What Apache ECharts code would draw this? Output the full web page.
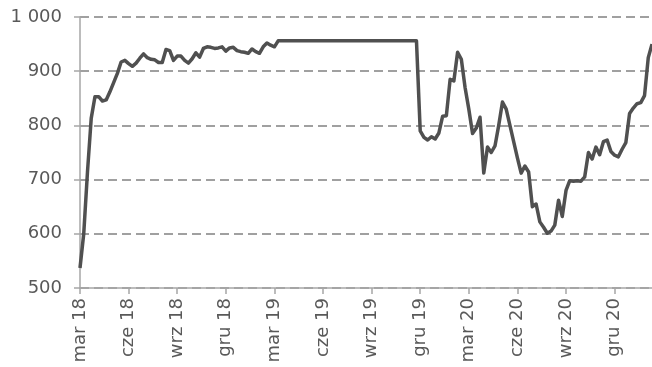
<!DOCTYPE html>
<html>
<head>
<meta charset="utf-8">
<style>
  html, body { margin: 0; padding: 0; background: #fff; }
  #chart { width: 652px; height: 367px; }
</style>
<script src="https://cdn.jsdelivr.net/npm/echarts@6/dist/echarts.min.js"></script>
</head>
<body>
<div id="chart"></div>
<script>
// tick labels, one per quarter (every 13 weeks)
var quarterLabels = ["mar 18", "cze 18", "wrz 18", "gru 18", "mar 19", "cze 19",
  "wrz 19", "gru 19", "mar 20", "cze 20", "wrz 20", "gru 20"];
var weeksPerQuarter = 13;

// weekly values
var values = [
  537, 600, 714, 813, 853, 853, 845, 847, 862, 879,
  896, 917, 920, 914, 909, 915, 924, 932, 925, 922,
  921, 916, 916, 940, 938, 920, 928, 928, 920, 915,
  923, 934, 926, 942, 945, 944, 942, 943, 945, 937,
  943, 944, 938, 936, 935, 933, 941, 936, 933, 945,
  952, 948, 945, 956, 956, 956, 956, 956, 956, 956,
  956, 956, 956, 956, 956, 956, 956, 956, 956, 956,
  956, 956, 956, 956, 956, 956, 956, 956, 956, 956,
  956, 956, 956, 956, 956, 956, 956, 956, 956, 956,
  956, 790, 778, 773, 779, 775, 786, 817, 818, 885,
  882, 935, 922, 870, 830, 785, 795, 815, 712, 760,
  750, 762, 800, 843, 830, 800, 770, 740, 712, 725,
  714, 650, 655, 622, 612, 601, 605, 616, 662, 632,
  680, 698, 697, 698, 697, 705, 750, 738, 760, 746,
  770, 773, 752, 745, 742, 756, 768, 822, 832, 840,
  842, 855, 925, 950
];
var categories = values.map(function (v, i) { return i; });

var yMin = 500, yMax = 1000, yStep = 100;

var labelColor = "#595959";
var fontFamily = "DejaVu Sans, Verdana, sans-serif";

var myChart = echarts.init(document.getElementById("chart"));
myChart.setOption({
  animation: false,
  grid: {
    left: 80,
    right: 0,
    top: 17,
    bottom: 79,
    containLabel: false
  },
  xAxis: {
    type: "category",
    boundaryGap: false,
    data: categories,
    axisLine: { lineStyle: { color: "#a6a6a6", width: 1.5 } },
    axisTick: {
      interval: weeksPerQuarter - 1,
      length: 6,
      lineStyle: { color: "#a6a6a6", width: 1.5 }
    },
    axisLabel: {
      interval: weeksPerQuarter - 1,
      rotate: 90,
      margin: 10,
      color: labelColor,
      fontSize: 18,
      fontFamily: fontFamily,
      formatter: function (v, i) {
        var q = i / weeksPerQuarter;
        return quarterLabels[q] || "";
      }
    },
    splitLine: { show: false }
  },
  yAxis: {
    type: "value",
    min: yMin,
    max: yMax,
    interval: yStep,
    axisLine: { show: true, lineStyle: { color: "#a6a6a6", width: 1.5 } },
    axisTick: { show: true, length: 6, lineStyle: { color: "#a6a6a6", width: 1.5 } },
    axisLabel: {
      margin: 18,
      color: labelColor,
      fontSize: 18,
      fontFamily: fontFamily,
      formatter: function (v) {
        return String(v).replace(/\B(?=(\d{3})+(?!\d))/g, " ");
      }
    },
    splitLine: {
      show: true,
      lineStyle: { color: "#a0a0a0", width: 2, type: [9, 5] }
    }
  },
  series: [
    {
      type: "line",
      data: values,
      showSymbol: false,
      smooth: false,
      clip: false,
      lineStyle: { color: "#505050", width: 3.5, join: "round" }
    }
  ]
});
</script>
</body>
</html>
